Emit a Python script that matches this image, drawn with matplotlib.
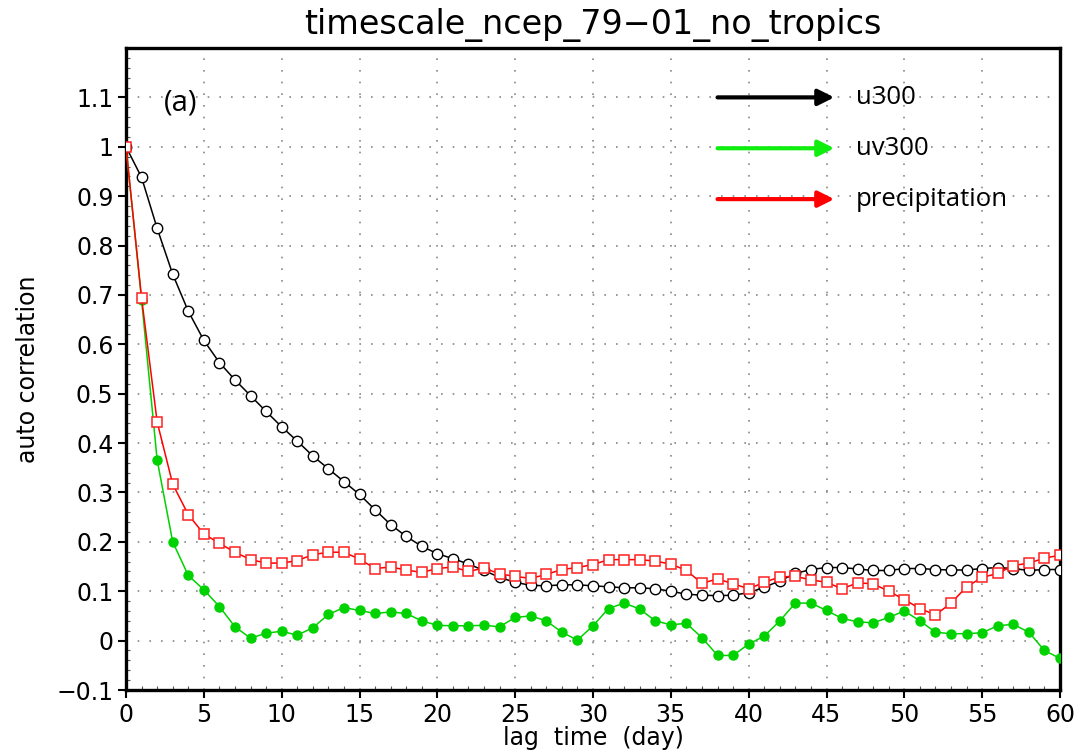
import matplotlib
matplotlib.use("Agg")
import matplotlib.pyplot as plt
from matplotlib.ticker import MultipleLocator
import numpy as np

days = list(range(0, 61))

u300 = [1.0, 0.938, 0.835, 0.742, 0.667, 0.608, 0.563, 0.528, 0.496, 0.464,
        0.433, 0.404, 0.374, 0.348, 0.322, 0.296, 0.265, 0.235, 0.211, 0.191,
        0.176, 0.166, 0.155, 0.142, 0.128, 0.118, 0.112, 0.111, 0.113, 0.113,
        0.111, 0.109, 0.107, 0.107, 0.105, 0.100, 0.094, 0.092, 0.091, 0.092,
        0.097, 0.108, 0.121, 0.136, 0.144, 0.148, 0.148, 0.145, 0.142, 0.142,
        0.146, 0.146, 0.144, 0.143, 0.143, 0.146, 0.148, 0.146, 0.142, 0.144,
        0.144]

uv300 = [1.0, 0.69, 0.366, 0.200, 0.132, 0.103, 0.069, 0.028, 0.005, 0.015,
         0.019, 0.011, 0.026, 0.053, 0.067, 0.061, 0.055, 0.058, 0.055, 0.040,
         0.031, 0.030, 0.030, 0.031, 0.028, 0.047, 0.050, 0.040, 0.017, 0.001,
         0.030, 0.065, 0.076, 0.064, 0.040, 0.032, 0.035, 0.006, -0.030, -0.030,
         -0.007, 0.009, 0.040, 0.076, 0.076, 0.061, 0.045, 0.038, 0.036, 0.047,
         0.060, 0.040, 0.017, 0.014, 0.014, 0.016, 0.030, 0.033, 0.017, -0.020,
         -0.036]

precip = [1.0, 0.694, 0.443, 0.317, 0.255, 0.216, 0.197, 0.179, 0.164, 0.157,
          0.157, 0.162, 0.174, 0.179, 0.179, 0.165, 0.146, 0.149, 0.143, 0.138,
          0.146, 0.149, 0.140, 0.147, 0.135, 0.130, 0.126, 0.134, 0.144, 0.148,
          0.154, 0.164, 0.164, 0.164, 0.161, 0.155, 0.142, 0.116, 0.125, 0.115,
          0.105, 0.118, 0.129, 0.130, 0.123, 0.118, 0.105, 0.117, 0.115, 0.100,
          0.083, 0.065, 0.052, 0.076, 0.109, 0.128, 0.136, 0.152, 0.157, 0.167,
          0.173]

series_names = ["u300", "uv300", "precipitation"]
xticks = list(range(0, 61, 5))
yticks = [-0.1, 0, 0.1, 0.2, 0.3, 0.4, 0.5, 0.6, 0.7, 0.8, 0.9, 1, 1.1]
ytick_labels = ["\u22120.1", "0", "0.1", "0.2", "0.3", "0.4", "0.5", "0.6",
                "0.7", "0.8", "0.9", "1", "1.1"]

W, H = 1081, 753
fig = plt.figure(figsize=(W / 100, H / 100), dpi=100)
ax = fig.add_axes([126 / W, (H - 690) / H, (1060 - 126) / W, (690 - 48) / H])

GREEN = "#00d200"
ax.plot(days, uv300, color=GREEN, lw=1.1, marker="o", ms=6.5,
        mfc=GREEN, mec=GREEN, zorder=3)
ax.plot(days, u300, color="black", lw=1.1, marker="o", ms=7.5,
        mfc="white", mec="black", mew=1.0, zorder=4)
ax.plot(days, precip, color="#ff0000", lw=1.1, marker="s", ms=7,
        mfc="white", mec="#ff2020", mew=1.1, zorder=5)

ax.set_xlim(0, 60)
ax.set_ylim(-0.1, 1.2)
ax.set_xticks(xticks)
ax.set_yticks(yticks)
ax.set_yticklabels(ytick_labels)
ax.xaxis.set_minor_locator(MultipleLocator(1))
ax.yaxis.set_minor_locator(MultipleLocator(0.02))
ax.tick_params(which="major", direction="out", length=6, width=1.5,
               labelsize=17, pad=3)
ax.tick_params(which="minor", direction="in", length=3, width=0.8,
               color="#555555")
ax.grid(True, which="major", color="#888888", linestyle=(0, (1, 6)), lw=1.2)
for s in ax.spines.values():
    s.set_linewidth(2.4)

ax.set_title("timescale_ncep_79\u221201_no_tropics", fontsize=24, pad=10)
ax.set_xlabel("lag  time  (day)", fontsize=17, labelpad=0)
ax.set_ylabel("auto correlation", fontsize=17, labelpad=12)

legend_y = [1.1, 0.997, 0.894]
legend_colors = ["black", "#10ee10", "#ff0000"]
for name, yy, c in zip(series_names, legend_y, legend_colors):
    ax.annotate("", xy=(45.5, yy), xytext=(38.0, yy),
                arrowprops=dict(arrowstyle="-|>", color=c, lw=3,
                                mutation_scale=24, shrinkA=0, shrinkB=0),
                zorder=6)
    ax.text(46.9, yy, name, fontsize=18.5, family="Open Sans",
            va="center", ha="left", zorder=6)

ax.text(3.5, 1.089, "(a)", fontsize=21, family="Open Sans",
        ha="center", va="center", zorder=6)

fig.savefig("out.png", dpi=100)
